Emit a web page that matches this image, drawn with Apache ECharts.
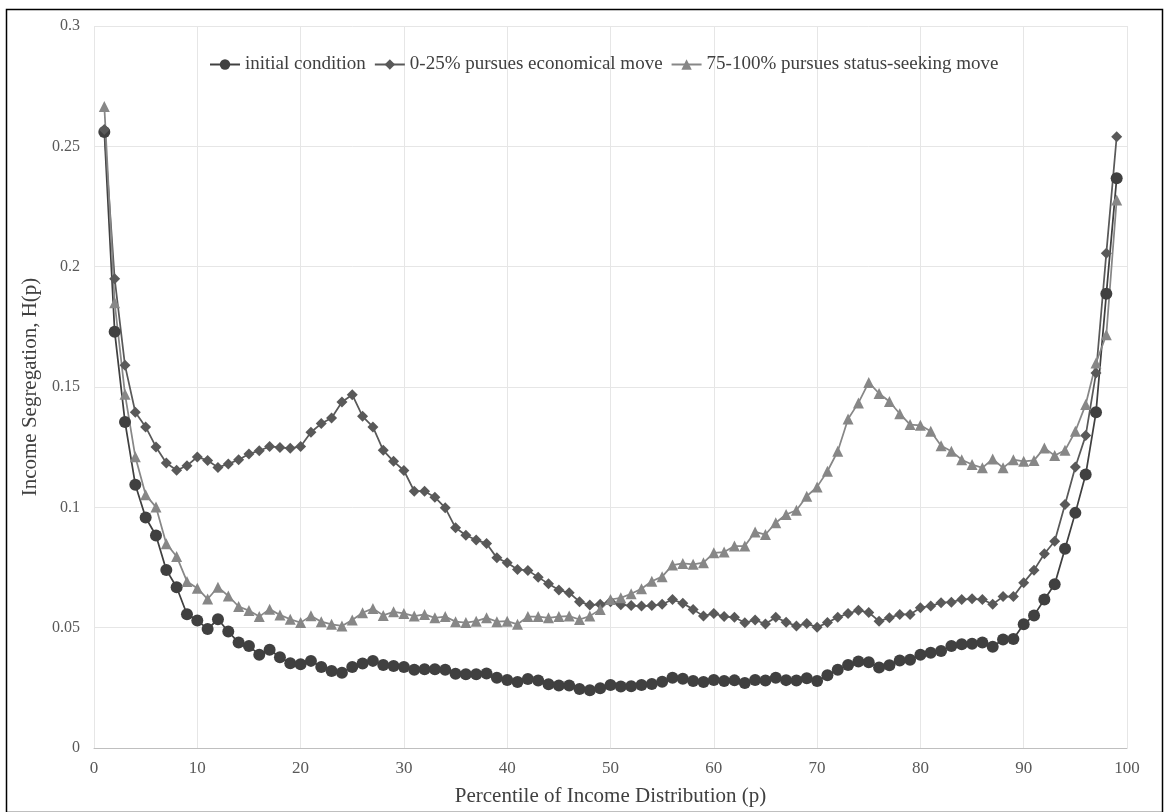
<!DOCTYPE html>
<html>
<head>
<meta charset="utf-8">
<script src="https://cdn.jsdelivr.net/npm/echarts@6/dist/echarts.min.js"></script>
<style>
html,body{margin:0;padding:0;background:#fff;}
#chart{width:1165px;height:812px;}
</style>
</head>
<body>
<div id="chart"></div>
<script>
var percentiles = [1,2,3,4,5,6,7,8,9,10,11,12,13,14,15,16,17,18,19,20,21,22,23,24,25,26,27,28,29,30,31,32,33,34,35,36,37,38,39,40,41,42,43,44,45,46,47,48,49,50,51,52,53,54,55,56,57,58,59,60,61,62,63,64,65,66,67,68,69,70,71,72,73,74,75,76,77,78,79,80,81,82,83,84,85,86,87,88,89,90,91,92,93,94,95,96,97,98,99];

var initialCondition = [0.256,0.173,0.1355,0.1094,0.0958,0.0883,0.0740,0.0668,0.0556,0.0530,
0.0494,0.0535,0.0484,0.0438,0.0424,0.0387,0.0408,0.0377,0.0352,0.0348,
0.0362,0.0337,0.0320,0.0313,0.0337,0.0351,0.0362,0.0345,0.0341,0.0337,
0.0325,0.0327,0.0327,0.0325,0.0309,0.0306,0.0306,0.0310,0.0292,0.0283,
0.0274,0.0287,0.0280,0.0265,0.0260,0.0260,0.0245,0.0240,0.0248,0.0262,
0.0256,0.0257,0.0262,0.0266,0.0275,0.0292,0.0288,0.0278,0.0274,0.0283,
0.0278,0.0281,0.0270,0.0283,0.0280,0.0292,0.0282,0.0280,0.0290,0.0278,
0.0302,0.0325,0.0345,0.0359,0.0356,0.0334,0.0344,0.0364,0.0367,0.0387,
0.0396,0.0403,0.0424,0.0431,0.0433,0.0438,0.0421,0.0451,0.0453,0.0514,
0.0551,0.0617,0.0680,0.0828,0.0977,0.1136,0.1395,0.1887,0.2367];

var economicalMove = [0.257,0.195,0.159,0.1395,0.1334,0.1251,0.1184,0.1154,0.1173,0.1209,
0.1195,0.1166,0.1180,0.1198,0.1222,0.1235,0.1253,0.1249,0.1245,0.1253,
0.1312,0.1348,0.1371,0.1438,0.1468,0.1378,0.1334,0.1237,0.1191,0.1153,
0.1067,0.1067,0.1042,0.0998,0.0915,0.0884,0.0864,0.0850,0.0790,0.0770,
0.0742,0.0738,0.0710,0.0682,0.0656,0.0645,0.0608,0.0594,0.0597,0.0608,
0.0595,0.0592,0.0590,0.0592,0.0597,0.0617,0.0601,0.0576,0.0548,0.0559,
0.0546,0.0543,0.0520,0.0532,0.0515,0.0543,0.0523,0.0507,0.0517,0.0502,
0.0521,0.0543,0.0559,0.0572,0.0563,0.0527,0.0541,0.0555,0.0555,0.0583,
0.0590,0.0604,0.0606,0.0617,0.0620,0.0617,0.0597,0.0629,0.0629,0.0687,
0.0739,0.0807,0.0859,0.1012,0.1168,0.1298,0.1558,0.2056,0.2540];

var statusSeekingMove = [0.2665,0.185,0.147,0.121,0.1052,0.1001,0.0849,0.0796,0.0692,0.0664,
0.0619,0.0668,0.0632,0.0588,0.0571,0.0546,0.0577,0.0553,0.0535,0.0521,
0.0549,0.0525,0.0514,0.0507,0.0532,0.0562,0.0580,0.0551,0.0566,0.0559,
0.0548,0.0555,0.0541,0.0546,0.0525,0.0521,0.0527,0.0541,0.0525,0.0527,
0.0514,0.0546,0.0546,0.0541,0.0546,0.0548,0.0534,0.0548,0.0576,0.0617,
0.0624,0.0641,0.0662,0.0693,0.0712,0.0760,0.0767,0.0763,0.0770,0.0811,
0.0814,0.0839,0.0839,0.0898,0.0887,0.0936,0.0970,0.0988,0.1046,0.1085,
0.1150,0.1233,0.1367,0.1434,0.1519,0.1473,0.1440,0.1389,0.1344,0.1341,
0.1316,0.1256,0.1233,0.1198,0.1178,0.1164,0.1201,0.1164,0.1198,0.1191,
0.1195,0.1247,0.1215,0.1237,0.1316,0.1427,0.1600,0.1717,0.2277];

var seriesNames = ['initial condition','0-25% pursues economical move','75-100% pursues status-seeking move'];
var xTitle = 'Percentile of Income Distribution (p)';
var yTitle = 'Income Segregation, H(p)';

function pairs(vals){ return percentiles.map(function(p,i){ return [p, vals[i]]; }); }

var FONT = '"Liberation Serif", "Times New Roman", serif';
var chart = echarts.init(document.getElementById('chart'), null, {renderer:'canvas'});
var mk = function(name, vals, color, symbol, size){
  return {
    name: name, type: 'line', data: pairs(vals),
    symbol: symbol, symbolSize: size, showSymbol: true,
    lineStyle: {color: color, width: 1.75},
    itemStyle: {color: color},
    animation: false
  };
};
chart.setOption({
  backgroundColor: '#ffffff',
  animation: false,
  graphic: [{
    type: 'rect', left: 4, top: 7, silent: true,
    shape: {width: 1156, height: 803},
    style: {fill: 'none', stroke: '#000', lineWidth: 1.5}
  }],
  legend: {
    top: 50, left: 204,
    itemWidth: 30, itemHeight: 13, itemGap: 8,
    textStyle: {fontFamily: FONT, fontSize: 19, color: '#404040'},
    data: seriesNames
  },
  grid: {left: 94, right: 38, top: 26, bottom: 63, containLabel: false},
  xAxis: {
    type: 'value', min: 0, max: 100, interval: 10,
    name: xTitle, nameLocation: 'middle', nameGap: 38,
    nameTextStyle: {fontFamily: FONT, fontSize: 21, color: '#404040'},
    axisLine: {show: true, lineStyle: {color: '#bfbfbf', width: 1}},
    axisTick: {show: false},
    axisLabel: {fontFamily: FONT, fontSize: 17, color: '#595959', margin: 12},
    splitLine: {show: true, lineStyle: {color: '#e6e6e6', width: 1}}
  },
  yAxis: {
    type: 'value', min: 0, max: 0.3, interval: 0.05,
    name: yTitle, nameLocation: 'middle', nameGap: 48,
    nameTextStyle: {fontFamily: FONT, fontSize: 21, color: '#404040'},
    axisLine: {show: false},
    axisTick: {show: false},
    axisLabel: {fontFamily: FONT, fontSize: 16, color: '#595959', margin: 14,
      formatter: function(v){ return String(Math.round(v*100)/100); }},
    splitLine: {show: true, lineStyle: {color: '#e6e6e6', width: 1}}
  },
  series: [
    mk(seriesNames[0], initialCondition, '#404040', 'circle', 12),
    mk(seriesNames[1], economicalMove, '#595959', 'diamond', 11),
    mk(seriesNames[2], statusSeekingMove, '#878787', 'triangle', 11)
  ]
});
</script>
</body>
</html>
